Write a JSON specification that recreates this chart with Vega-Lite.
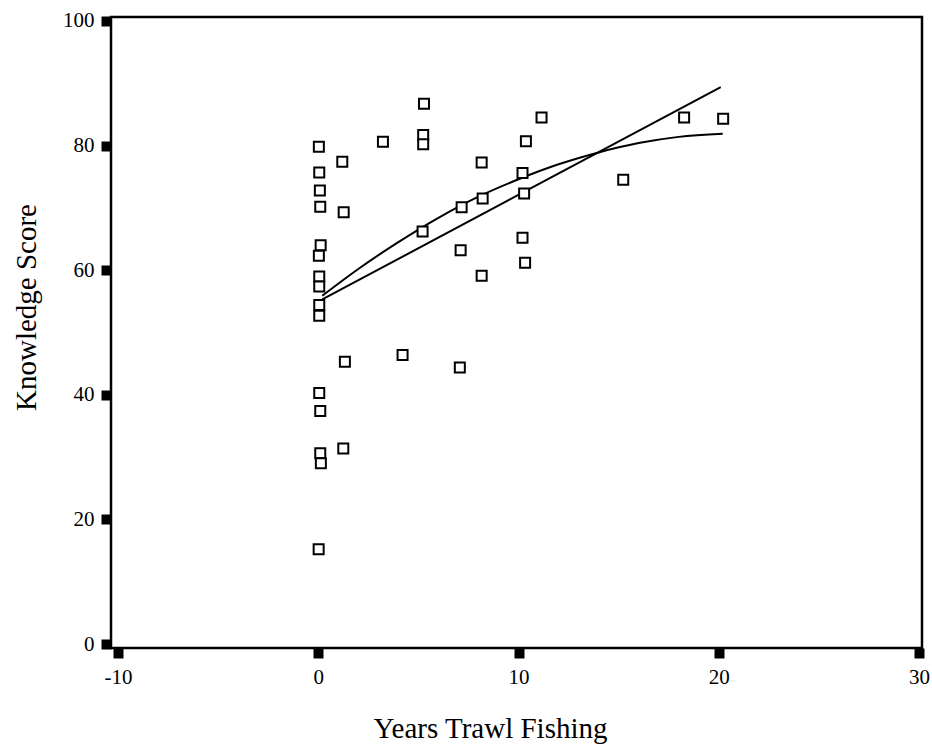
{
  "$schema": "https://vega.github.io/schema/vega-lite/v6.json",
  "autosize": "none",
  "width": 811,
  "height": 631,
  "padding": {"left": 111, "top": 17, "right": 10, "bottom": 100},
  "background": "white",
  "config": {
    "view": {"stroke": "black", "strokeWidth": 2.5},
    "axis": {
      "grid": false,
      "domain": false,
      "tickColor": "black",
      "tickWidth": 10,
      "tickSize": 10,
      "labelFont": "Liberation Serif",
      "labelFontSize": 21,
      "labelColor": "black",
      "labelExpr": "'' + datum.value",
      "titleFont": "Liberation Serif",
      "titleFontSize": 29,
      "titleFontWeight": "normal",
      "titleColor": "black"
    }
  },
  "datasets": {
    "points": [
      {"years": 0.03, "score": 79.8},
      {"years": 0.05, "score": 75.7},
      {"years": 0.08, "score": 72.8},
      {"years": 0.1, "score": 70.2},
      {"years": 0.12, "score": 64.0},
      {"years": 0.03, "score": 62.3},
      {"years": 0.05, "score": 59.0},
      {"years": 0.05, "score": 57.4},
      {"years": 0.05, "score": 54.4},
      {"years": 0.05, "score": 52.7},
      {"years": 0.05, "score": 40.3},
      {"years": 0.1, "score": 37.4},
      {"years": 0.1, "score": 30.6},
      {"years": 0.13, "score": 29.0},
      {"years": 0.02, "score": 15.2},
      {"years": 1.2, "score": 77.4},
      {"years": 1.27, "score": 69.3},
      {"years": 1.33, "score": 45.3},
      {"years": 1.25, "score": 31.4},
      {"years": 3.23, "score": 80.6},
      {"years": 5.28, "score": 86.7},
      {"years": 5.24, "score": 81.7},
      {"years": 5.24, "score": 80.2},
      {"years": 5.21, "score": 66.2},
      {"years": 4.21, "score": 46.4},
      {"years": 7.16, "score": 70.1},
      {"years": 7.11, "score": 63.2},
      {"years": 7.07, "score": 44.4},
      {"years": 8.21, "score": 71.5},
      {"years": 8.16, "score": 77.3},
      {"years": 8.16, "score": 59.1},
      {"years": 10.37, "score": 80.7},
      {"years": 10.2, "score": 75.6},
      {"years": 10.28, "score": 72.3},
      {"years": 10.2, "score": 65.2},
      {"years": 10.33, "score": 61.2},
      {"years": 11.15, "score": 84.5},
      {"years": 15.23, "score": 74.5},
      {"years": 18.27, "score": 84.5},
      {"years": 20.22, "score": 84.3}
    ],
    "fits": [
      {"fit": "linear", "years": 0.2, "score": 55.3},
      {"fit": "linear", "years": 20.1, "score": 89.4},
      {"fit": "quadratic", "years": 0.2, "score": 55.9},
      {"fit": "quadratic", "years": 2, "score": 60.2},
      {"fit": "quadratic", "years": 4, "score": 64.5},
      {"fit": "quadratic", "years": 6, "score": 68.4},
      {"fit": "quadratic", "years": 8, "score": 71.8},
      {"fit": "quadratic", "years": 10, "score": 74.6},
      {"fit": "quadratic", "years": 12, "score": 77.0},
      {"fit": "quadratic", "years": 14, "score": 78.9},
      {"fit": "quadratic", "years": 16, "score": 80.4},
      {"fit": "quadratic", "years": 18, "score": 81.4},
      {"fit": "quadratic", "years": 20.2, "score": 81.9}
    ]
  },
  "encoding": {
    "x": {
      "field": "years", "type": "quantitative",
      "scale": {"domain": [-10.35, 30.15], "nice": false, "zero": false},
      "axis": {"values": [-10, 0, 10, 20, 30], "title": "Years Trawl Fishing", "labelPadding": 8, "titleX": 379, "titleY": 66, "titleBaseline": "top"}
    },
    "y": {
      "field": "score", "type": "quantitative",
      "scale": {"domain": [-0.64, 100.64], "nice": false, "zero": false},
      "axis": {"values": [0, 20, 40, 60, 80, 100], "title": "Knowledge Score", "labelPadding": 7, "titleX": -70, "titleY": 290, "titleAngle": -90, "titleBaseline": "bottom"}
    }
  },
  "layer": [
    {
      "data": {"name": "fits"},
      "mark": {"type": "line", "color": "black", "strokeWidth": 2, "interpolate": "monotone"},
      "encoding": {"detail": {"field": "fit"}}
    },
    {
      "data": {"name": "points"},
      "mark": {"type": "point", "shape": "square", "size": 100, "stroke": "black", "strokeWidth": 2, "fill": "white", "filled": false, "opacity": 1}
    }
  ]
}
